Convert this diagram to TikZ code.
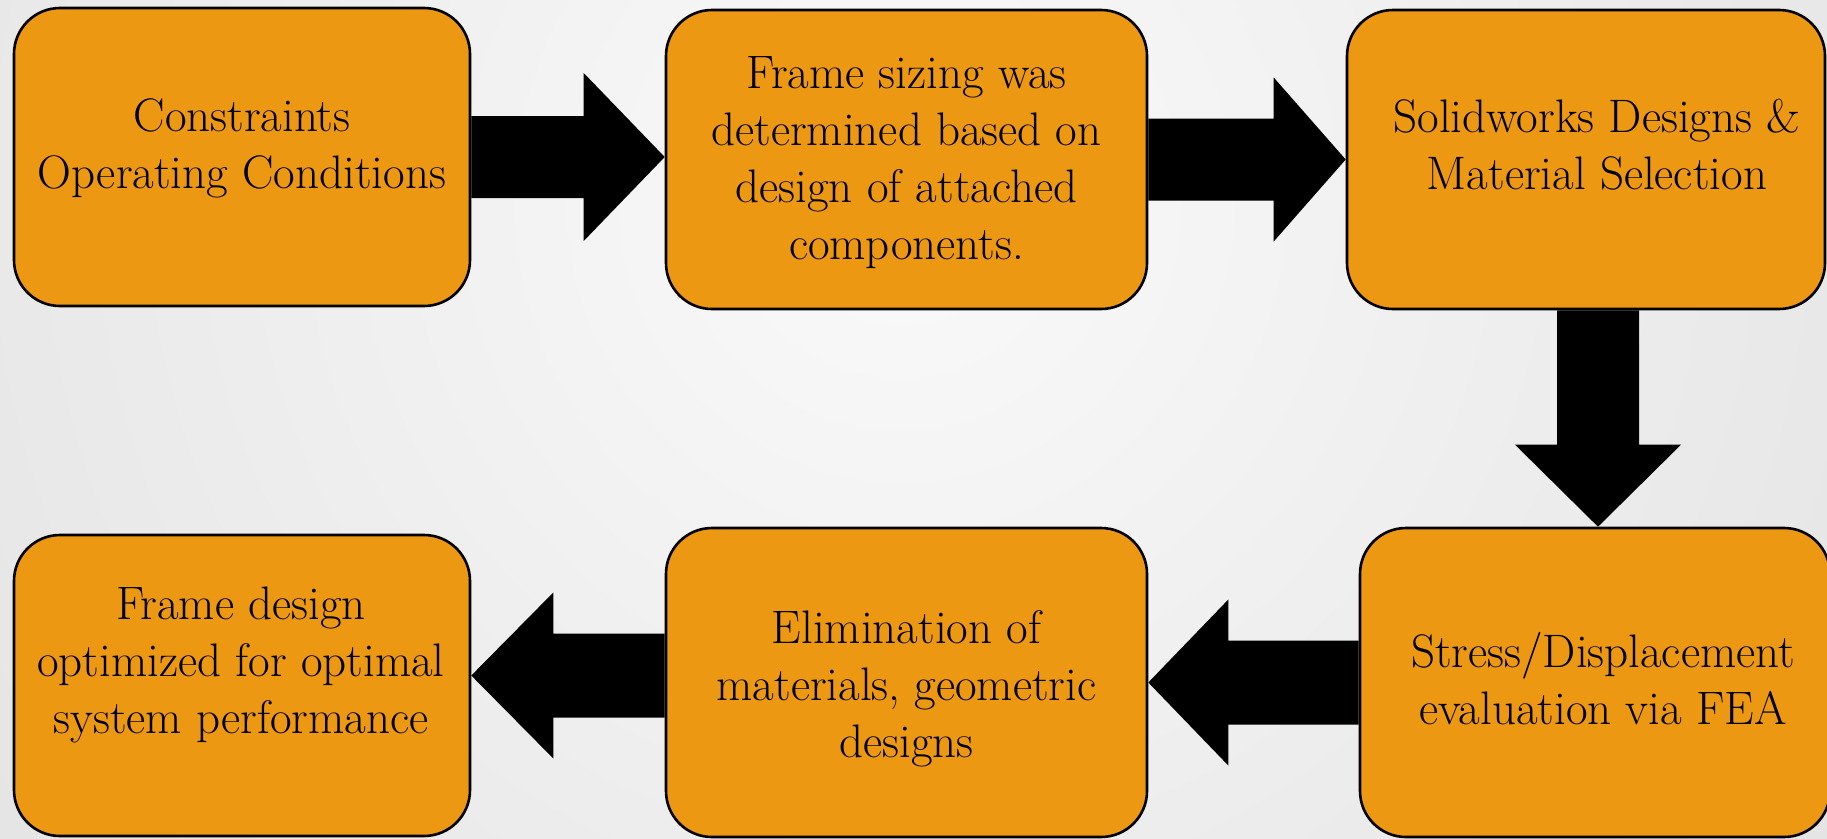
\documentclass[tikz,border=0pt]{standalone}
\usetikzlibrary{calc}
\definecolor{boxorange}{RGB}{236,152,19}
\tikzset{
  stage/.style={draw=black, line width=2.6pt, fill=boxorange, rounded corners=46pt, inner sep=0pt},
  caption/.style={align=center, font=\fontsize{47}{57}\selectfont, inner sep=0pt},
}
% thick block arrow: #1 start, #2 tip, #3 shaft half-width, #4 head half-width, #5 head length
\newcommand\fatarrow[5]{%
  \fill[black] ($(#1)!#3pt!90:(#2)$)
    -- ($($(#2)!#5pt!(#1)$)!#3pt!-90:(#1)$)
    -- ($($(#2)!#5pt!(#1)$)!#4pt!-90:(#1)$)
    -- (#2)
    -- ($($(#2)!#5pt!(#1)$)!#4pt!90:(#1)$)
    -- ($($(#2)!#5pt!(#1)$)!#3pt!90:(#1)$)
    -- ($(#1)!#3pt!-90:(#2)$) -- cycle;}
\begin{document}
\begin{tikzpicture}[x=1pt,y=-1pt]
\useasboundingbox (0,0) rectangle (1827,838);
% backdrop
\begin{scope}
  \clip (0,0) rectangle (1827,838);
  \shade[inner color=black!2, outer color=black!20] (900,200) circle (2400);
\end{scope}

% process stages
\node[stage, minimum width=456, minimum height=298] (b1) at (242,157) {};
\node[stage, minimum width=481, minimum height=299] (b2) at (906.5,159.5) {};
\node[stage, minimum width=478, minimum height=299] (b3) at (1586,159.5) {};
\node[stage, minimum width=470, minimum height=309] (b4) at (1595,682.5) {};
\node[stage, minimum width=481, minimum height=309] (b5) at (906.5,682.5) {};
\node[stage, minimum width=456, minimum height=301] (b6) at (242,685.5) {};

\node[caption] (t1) at (242,148.5) {Constraints\\Operating Conditions};
\node[caption] (t2) at (906.5,163) {Frame sizing was\\determined based on\\design of attached\\components.};
\node[caption] (t3) at (1597,144.5) {Solidworks Designs \&\\Material Selection};
\node[caption] (t4) at (1603,679) {Stress/Displacement\\evaluation via FEA};
\node[caption] (t5) at (906.5,688.5) {Elimination of\\materials, geometric\\designs};
\node[caption] (t6) at (241,665) {Frame design\\optimized for optimal\\system performance};

% flow arrows
\fatarrow{b1.east}{b1.east -| b2.west}{41}{84}{81}
\fatarrow{b2.east}{b2.east -| b3.west}{41}{82}{72}
\coordinate (a3) at ($(b3.south -| b4.north)+(3,0)$);
\fatarrow{a3}{a3 |- b4.north}{41}{83}{82}
\fatarrow{b4.west}{b4.west -| b5.east}{42}{83}{80}
\coordinate (a5) at ($(b5.west)+(0,-7)$);
\fatarrow{a5}{a5 -| b6.east}{42}{83}{82}
\end{tikzpicture}
\end{document}
